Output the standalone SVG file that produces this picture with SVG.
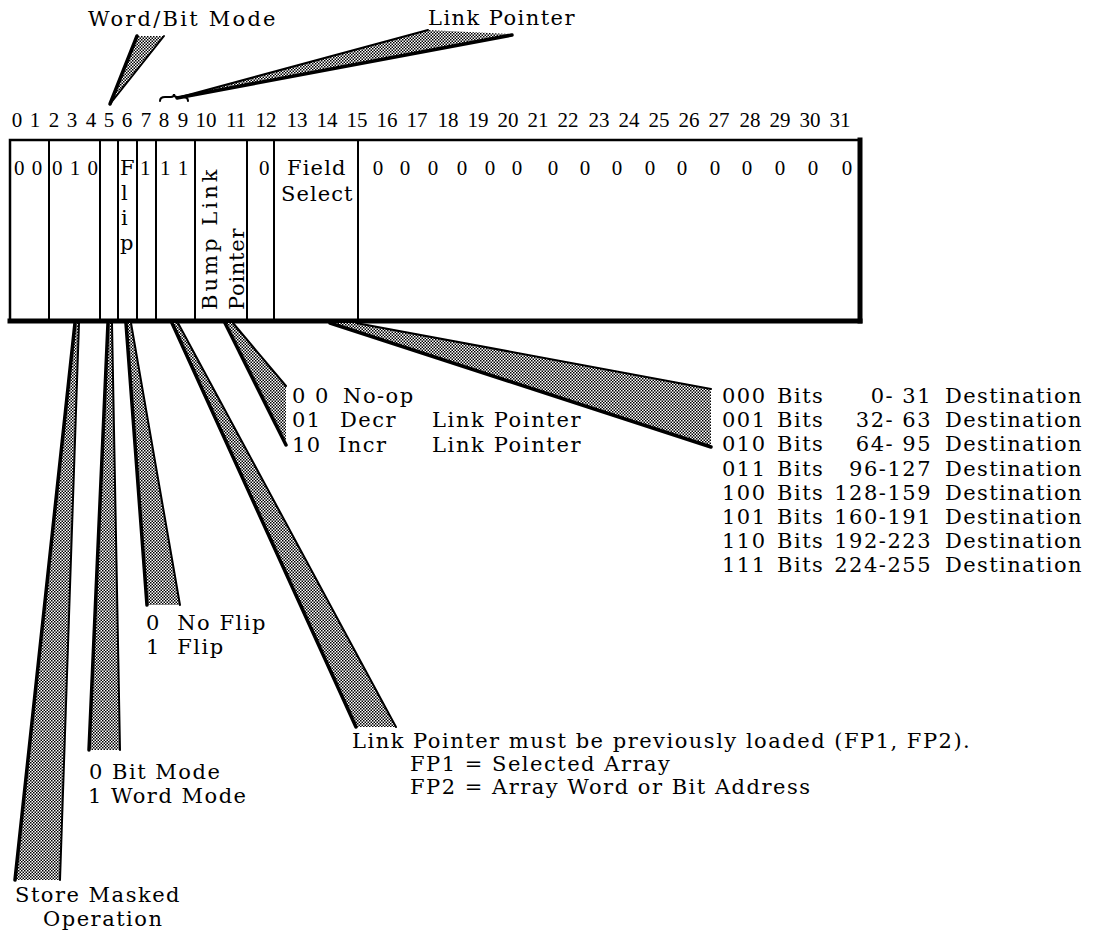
<svg xmlns="http://www.w3.org/2000/svg" width="1099" height="935" viewBox="0 0 1099 935">
<style>
.t{font-family:"DejaVu Serif","Liberation Serif",serif;font-size:21px;letter-spacing:1.5px;fill:#000}
.n{font-family:"Liberation Serif","DejaVu Serif",serif;font-size:21px;letter-spacing:1px;fill:#000}
.nm{font-family:"Liberation Serif","DejaVu Serif",serif;font-size:21px;fill:#000;text-anchor:middle}
.fr{fill:none;stroke:#000;stroke-width:2.5}
.dv{stroke:#000;stroke-width:2}
.th{stroke:#000;stroke-width:5;stroke-linecap:square}
.w{fill:url(#dots);stroke:none}
.e{stroke:#000;stroke-width:3.5;stroke-linecap:round;fill:none}
.e2{stroke:#000;stroke-width:2;stroke-linecap:round;fill:none}
</style>
<defs>
<pattern id="dots" width="3" height="3" patternUnits="userSpaceOnUse">
<rect width="3" height="3" fill="#fff"/>
<rect x="0" y="0" width="1.5" height="1.5" fill="#000"/>
<rect x="1.5" y="1.5" width="1.5" height="1.5" fill="#000"/>
</pattern>
</defs>
<rect width="1099" height="935" fill="#fff"/>

<g id="bitnumbers">
<text class="nm" x="17" y="127">0</text><text class="nm" x="35" y="127">1</text><text class="nm" x="54" y="127">2</text><text class="nm" x="72" y="127">3</text><text class="nm" x="91" y="127">4</text><text class="nm" x="109" y="127">5</text><text class="nm" x="127" y="127">6</text><text class="nm" x="146" y="127">7</text><text class="nm" x="164" y="127">8</text><text class="nm" x="183" y="127">9</text>
<text class="nm" x="206" y="127">10</text><text class="nm" x="236" y="127">11</text><text class="nm" x="266" y="127">12</text><text class="nm" x="297" y="127">13</text><text class="nm" x="327" y="127">14</text><text class="nm" x="357" y="127">15</text><text class="nm" x="387" y="127">16</text><text class="nm" x="417" y="127">17</text><text class="nm" x="448" y="127">18</text><text class="nm" x="478" y="127">19</text><text class="nm" x="508" y="127">20</text><text class="nm" x="538" y="127">21</text><text class="nm" x="568" y="127">22</text><text class="nm" x="599" y="127">23</text><text class="nm" x="629" y="127">24</text><text class="nm" x="659" y="127">25</text><text class="nm" x="689" y="127">26</text><text class="nm" x="719" y="127">27</text><text class="nm" x="750" y="127">28</text><text class="nm" x="780" y="127">29</text><text class="nm" x="810" y="127">30</text><text class="nm" x="840" y="127">31</text>
<path d="M160,101 Q160,97 165,97 L171,97 Q174,97 174,94 Q174,97 177,97 L183,97 Q188,97 188,101" class="e2" stroke-width="1.5"/>
</g>

<g id="word-box">
<rect class="fr" x="10" y="140" width="850" height="181"/>
<line class="dv" x1="49" y1="140" x2="49" y2="321"/>
<line class="dv" x1="100" y1="140" x2="100" y2="321"/>
<line class="dv" x1="118" y1="140" x2="118" y2="321"/>
<line class="dv" x1="137" y1="140" x2="137" y2="321"/>
<line class="dv" x1="156" y1="140" x2="156" y2="321"/>
<line class="dv" x1="195" y1="140" x2="195" y2="321"/>
<line class="dv" x1="247" y1="140" x2="247" y2="321"/>
<line class="dv" x1="274" y1="140" x2="274" y2="321"/>
<line class="dv" x1="358" y1="140" x2="358" y2="321"/>
<line class="th" x1="10" y1="321" x2="860" y2="321"/>
<line class="th" x1="860" y1="140" x2="860" y2="321"/>
<text class="n" x="14" y="175" xml:space="preserve">0 0</text>
<text class="n" x="52" y="175" xml:space="preserve">0 1 0</text>
<text class="t" x="120" y="175">F</text>
<text class="t" x="121" y="200">l</text>
<text class="t" x="121" y="225">i</text>
<text class="t" x="120" y="250">p</text>
<text class="n" x="140" y="175">1</text>
<text class="n" x="160" y="175" xml:space="preserve">1 1</text>
<text class="t" transform="translate(217,310) rotate(-90)" textLength="142">Bump Link</text>
<text class="t" transform="translate(244,310) rotate(-90)" textLength="83">Pointer</text>
<text class="n" x="259" y="175">0</text>
<text class="t" x="287" y="175" textLength="60">Field</text>
<text class="t" x="281" y="201" textLength="73">Select</text>
<text class="nm" x="378" y="175">0</text><text class="nm" x="405" y="175">0</text><text class="nm" x="433" y="175">0</text><text class="nm" x="462" y="175">0</text><text class="nm" x="490" y="175">0</text><text class="nm" x="517" y="175">0</text>
<text class="nm" x="553" y="175">0</text><text class="nm" x="585" y="175">0</text><text class="nm" x="617" y="175">0</text><text class="nm" x="650" y="175">0</text><text class="nm" x="682" y="175">0</text><text class="nm" x="715" y="175">0</text><text class="nm" x="747" y="175">0</text><text class="nm" x="780" y="175">0</text><text class="nm" x="813" y="175">0</text><text class="nm" x="847" y="175">0</text>
</g>

<g id="connectors">
<polygon class="w" points="110,104 137,36 164,36"/>
<line class="e" x1="110" y1="104" x2="137" y2="36"/>
<line class="e2" x1="110" y1="104" x2="164" y2="36"/>
<polygon class="w" points="177,98 428,30 512,34"/>
<line class="e2" x1="177" y1="98" x2="428" y2="30"/>
<line class="e" x1="177" y1="98" x2="512" y2="35"/>
<polygon class="w" points="75,323 79,323 60,880 15,880"/>
<line class="e" x1="75" y1="323" x2="15" y2="880"/>
<line class="e2" x1="79" y1="323" x2="60" y2="880"/>
<polygon class="w" points="108,323 112,323 120,750 89,750"/>
<line class="e" x1="108" y1="323" x2="89" y2="750"/>
<line class="e2" x1="112" y1="323" x2="120" y2="750"/>
<polygon class="w" points="126,323 131,323 180,605 147,605"/>
<line class="e" x1="126" y1="323" x2="147" y2="605"/>
<line class="e2" x1="131" y1="323" x2="180" y2="605"/>
<polygon class="w" points="172,323 178,323 396,727 356,727"/>
<line class="e" x1="172" y1="323" x2="356" y2="727"/>
<line class="e2" x1="178" y1="323" x2="396" y2="727"/>
<polygon class="w" points="225,323 233,323 286,386 286,445"/>
<line class="e" x1="225" y1="323" x2="286" y2="445"/>
<line class="e2" x1="233" y1="323" x2="286" y2="386"/>
<polygon class="w" points="330,323 356,323 711,389 711,447"/>
<line class="e" x1="330" y1="323" x2="711" y2="447"/>
<line class="e2" x1="356" y1="323" x2="711" y2="389"/>
</g>

<g id="label-wordbit"><text class="t" x="88" y="26" textLength="189">Word/Bit Mode</text></g>
<g id="label-linkpointer"><text class="t" x="428" y="25" textLength="148">Link Pointer</text></g>

<g id="label-bump">
<text class="t" x="292" y="403" xml:space="preserve">0 0</text><text class="t" x="343" y="403">No-op</text>
<text class="t" x="292" y="427">01</text><text class="t" x="340" y="427">Decr</text><text class="t" x="432" y="427" textLength="150">Link Pointer</text>
<text class="t" x="292" y="452">10</text><text class="t" x="338" y="452">Incr</text><text class="t" x="432" y="452" textLength="150">Link Pointer</text>
</g>

<g id="label-field">
<text class="t" x="722" y="403">000</text><text class="t" x="777" y="403">Bits</text><text class="t" x="932" y="403" text-anchor="end">0- 31</text><text class="t" x="945" y="403" textLength="138">Destination</text>
<text class="t" x="722" y="427">001</text><text class="t" x="777" y="427">Bits</text><text class="t" x="932" y="427" text-anchor="end">32- 63</text><text class="t" x="945" y="427" textLength="138">Destination</text>
<text class="t" x="722" y="451">010</text><text class="t" x="777" y="451">Bits</text><text class="t" x="932" y="451" text-anchor="end">64- 95</text><text class="t" x="945" y="451" textLength="138">Destination</text>
<text class="t" x="722" y="476">011</text><text class="t" x="777" y="476">Bits</text><text class="t" x="932" y="476" text-anchor="end">96-127</text><text class="t" x="945" y="476" textLength="138">Destination</text>
<text class="t" x="722" y="500">100</text><text class="t" x="777" y="500">Bits</text><text class="t" x="932" y="500" text-anchor="end">128-159</text><text class="t" x="945" y="500" textLength="138">Destination</text>
<text class="t" x="722" y="524">101</text><text class="t" x="777" y="524">Bits</text><text class="t" x="932" y="524" text-anchor="end">160-191</text><text class="t" x="945" y="524" textLength="138">Destination</text>
<text class="t" x="722" y="548">110</text><text class="t" x="777" y="548">Bits</text><text class="t" x="932" y="548" text-anchor="end">192-223</text><text class="t" x="945" y="548" textLength="138">Destination</text>
<text class="t" x="722" y="572">111</text><text class="t" x="777" y="572">Bits</text><text class="t" x="932" y="572" text-anchor="end">224-255</text><text class="t" x="945" y="572" textLength="138">Destination</text>
</g>

<g id="label-flip">
<text class="t" x="146" y="630" xml:space="preserve">0  No Flip</text>
<text class="t" x="146" y="654" xml:space="preserve">1  Flip</text>
</g>

<g id="label-linkloaded">
<text class="t" x="352" y="748">Link Pointer must be previously loaded (FP1, FP2).</text>
<text class="t" x="410" y="771">FP1 = Selected Array</text>
<text class="t" x="410" y="794">FP2 = Array Word or Bit Address</text>
</g>

<g id="label-mode">
<text class="t" x="89" y="779">0 Bit Mode</text>
<text class="t" x="88" y="803">1 Word Mode</text>
</g>

<g id="label-store">
<text class="t" x="15" y="902">Store Masked</text>
<text class="t" x="43" y="926">Operation</text>
</g>
</svg>
